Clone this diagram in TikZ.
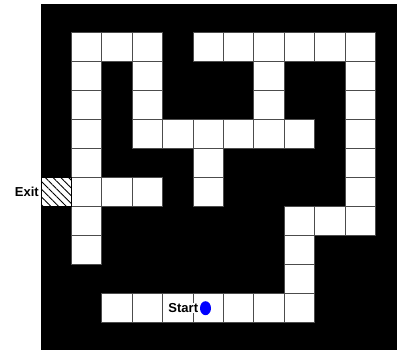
\documentclass[tikz,border=0pt]{standalone}
\usepackage{fontspec}
\setmainfont{Liberation Sans}
\usetikzlibrary{positioning, shapes.geometric, patterns.meta}

\begin{document}
\begin{tikzpicture}[
  x=1pt, y=-1pt,
  font=\fontsize{13}{15}\selectfont\bfseries,
  cell/.style={draw=gray!60!black, line width=0.8pt, fill=white, minimum width=30.4pt, minimum height=29pt, inner sep=0pt, outer sep=0pt},
  exitcell/.style={cell, draw=black, preaction={fill=white}, pattern={Lines[angle=-45, distance=5.5pt, line width=0.9pt]}},
  lbl/.style={inner sep=0.5pt, fill=white},
  startdot/.style={ellipse, fill=blue, minimum width=11pt, minimum height=14pt, inner sep=0pt},
]
\useasboundingbox (0,0) rectangle (397,350);
% ---- walls
\fill[black] (41,4) rectangle (397,350);

% ---- open cells, row by row
\foreach \r/\cols in {1/{1,2,3,5,6,7,8,9,10}, 2/{1,3,7,10}, 3/{1,3,7,10},
                      4/{1,3,4,5,6,7,8,10}, 5/{1,5,10}, 6/{1,2,3,5,10},
                      7/{1,8,9,10}, 8/{1,8}, 9/{8}, 10/{2,3,4,5,6,7,8}} {
  \foreach \c in \cols
    \node[cell] (c\c r\r) at ({56.2+30.4*\c}, {18.2+29*\r}) {};
}

% ---- exit and start
\node[exitcell] (exit) at (56.2, {18.2+29*6}) {};
\node[lbl, left=1.5pt of exit] (exitlbl) {Exit};
\node[startdot] (sdot) at ([xshift=-2.7pt]c5r10.center) {};
\node[lbl, left=1pt of sdot] (startlbl) {Start};
\end{tikzpicture}
\end{document}
